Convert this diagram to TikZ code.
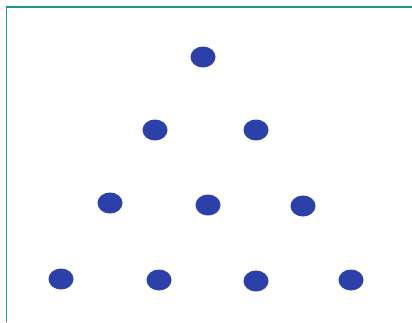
\documentclass[tikz,border=0pt]{standalone}
\usetikzlibrary{shapes.geometric}
\definecolor{dotblue}{RGB}{44,64,170}
\definecolor{frameteal}{RGB}{30,150,150}
\begin{document}
\begin{tikzpicture}[x=1pt,y=-1pt,
  dotnode/.style={ellipse,fill=dotblue,minimum width=25pt,minimum height=21pt,inner sep=0pt},
  frameline/.style={draw=frameteal,line width=1.6pt}]
\useasboundingbox (0,0) rectangle (412,322);
\fill[white] (0,0) rectangle (412,322);
\coordinate (fb) at (6.5,322);
\coordinate (fc) at (6.5,7);
\coordinate (fr) at (412,7);
\draw[frameline] (fb) -- (fc) -- (fr);
\node[dotnode] (a1) at (203,57) {};
\node[dotnode] (b1) at (155,130) {};
\node[dotnode] (b2) at (256,130) {};
\node[dotnode] (c1) at (110,203) {};
\node[dotnode] (c2) at (208,205) {};
\node[dotnode] (c3) at (303,206) {};
\node[dotnode] (d1) at (61,279) {};
\node[dotnode] (d2) at (159,280) {};
\node[dotnode] (d3) at (256,281) {};
\node[dotnode] (d4) at (351,280) {};
\end{tikzpicture}
\end{document}
